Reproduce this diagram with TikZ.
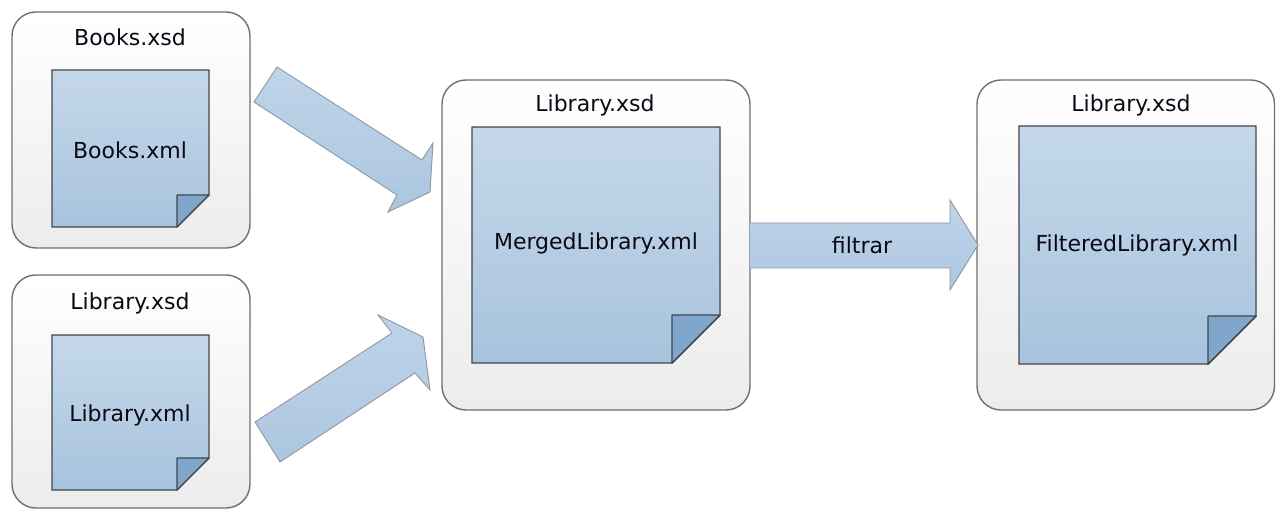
\documentclass[tikz,border=0pt]{standalone}
\usepackage{fontspec}
\setmainfont{DejaVu Sans}
\definecolor{boxline}{RGB}{112,112,112}
\definecolor{boxbot}{RGB}{236,236,236}
\definecolor{doctop}{RGB}{197,216,234}
\definecolor{docbot}{RGB}{168,195,222}
\definecolor{docline}{RGB}{64,70,76}
\definecolor{foldfill}{RGB}{128,167,203}
\definecolor{arrtop}{RGB}{192,212,233}
\definecolor{arrbot}{RGB}{172,198,224}
\definecolor{arrline}{RGB}{140,152,165}
\definecolor{txt}{RGB}{10,10,20}
\tikzset{
  boxstyle/.style={draw=boxline, line width=1.4pt, rounded corners=24pt, top color=white, bottom color=boxbot},
  docstyle/.style={draw=docline, line width=1.4pt, top color=doctop, bottom color=docbot},
  foldstyle/.style={draw=docline, line width=1.4pt, fill=foldfill, line join=round},
  arrstyle/.style={draw=arrline, line width=0.9pt, top color=arrtop, bottom color=arrbot},
  lbl/.style={font=\fontsize{22}{26}\selectfont, text=txt, inner sep=0pt}
}
\newcommand\mydoc[5]{%
  \path[docstyle] (#1,#2) -- (#3,#2) -- (#3,#4-#5) -- (#3-#5,#4) -- (#1,#4) -- cycle;
  \path[foldstyle] (#3-#5,#4-#5) -- (#3,#4-#5) -- (#3-#5,#4) -- cycle;
}
\begin{document}
\begin{tikzpicture}[x=1pt,y=-1pt]
\useasboundingbox (0,0) rectangle (1276,510);
% container boxes
\path[boxstyle] (12,12) rectangle (250,248);
\path[boxstyle] (12,275) rectangle (250,508);
\path[boxstyle] (442,80) rectangle (750,410);
\path[boxstyle] (977,80) rectangle (1274.5,410);
% documents
\mydoc{52}{70}{209}{227}{32}
\mydoc{52}{335}{209}{490}{32}
\mydoc{472}{127}{720}{363}{48}
\mydoc{1019}{126}{1256}{364}{48}
% titles
\node[lbl] (t1) at (130,37) {Books.xsd};
\node[lbl] (t2) at (130,303) {Library.xsd};
\node[lbl] (t3) at (595,105) {Library.xsd};
\node[lbl] (t4) at (1131,105) {Library.xsd};
% document labels
\node[lbl] (d1) at (130,150) {Books.xml};
\node[lbl] (d2) at (130,415) {Library.xml};
\node[lbl] (d3) at (596,243) {MergedLibrary.xml};
\node[lbl] (d4) at (1137,245) {FilteredLibrary.xml};
% block arrows
\path[arrstyle] (277,67) -- (422,160) -- (433,143) -- (430,192) -- (388,212) -- (397,195) -- (254,102) -- cycle;
\path[arrstyle] (255,422) -- (392,333) -- (378,315) -- (423,337) -- (430,390) -- (415,373) -- (280,462) -- cycle;
\path[arrstyle] (750,223) -- (950,223) -- (950,200) -- (978,245) -- (950,290) -- (950,268) -- (750,268);
\node[lbl] (f) at (862,245) {filtrar};
\end{tikzpicture}
\end{document}
